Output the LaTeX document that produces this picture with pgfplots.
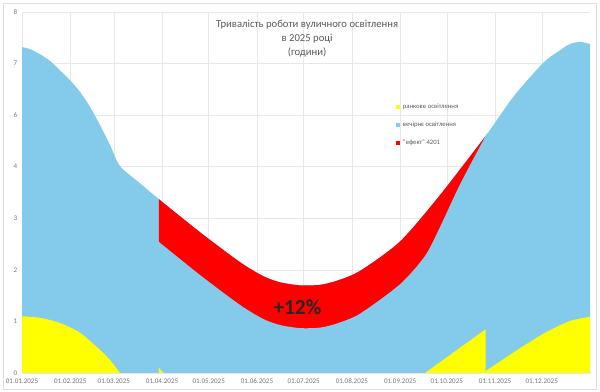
\documentclass[border=0pt]{standalone}
\usepackage{pgfplots}
\pgfplotsset{compat=1.18}
\usepackage{fontspec}
\setmainfont{Carlito}
\definecolor{skyb}{RGB}{131,202,235}
\definecolor{ylw}{RGB}{255,255,0}
\definecolor{titlegray}{RGB}{89,89,89}
\definecolor{tickgray}{RGB}{118,118,118}
\begin{document}
\begin{tikzpicture}
\begin{axis}[
  scale only axis, width=426pt, height=270.75pt,
  xmin=0, xmax=365, ymin=0, ymax=7,
  axis line style={draw=none},
  major tick length=0pt,
  xtick={0,31,59,90,120,151,181,212,243,273,304,334},
  xticklabels={01.01.2025,01.02.2025,01.03.2025,01.04.2025,01.05.2025,01.06.2025,01.07.2025,01.08.2025,01.09.2025,01.10.2025,01.11.2025,01.12.2025},
  ytick={0,1,2,3,4,5,6,7},
  yticklabels={0,1,2,3,4,6,7,8},
  grid=major, grid style={draw=gray!18, line width=0.4pt},
  tick label style={font=\fontsize{5.3}{6}\selectfont, text=tickgray},
  xticklabel style={yshift=-1pt},
  legend style={at={(rel axis cs:0.651,0.762)}, anchor=north west, draw=none, fill=none,
    font=\fontsize{5}{6}\selectfont, text=titlegray, row sep=4.6pt},
  legend cell align=left,
  legend image code/.code={\fill[#1] (0pt,-1.6pt) rectangle (3.2pt,1.6pt);},
]
% blue: upper envelope (total lighting without DST effect)
\addplot[fill=skyb, draw=none, smooth, tension=0.45, forget plot] coordinates {
(0,6.32)(5.1,6.28)(11.6,6.18)(18,6.05)(24.4,5.87)(30.8,5.68)(37.3,5.45)(43.7,5.16)(50.1,4.81)(56.6,4.42)(63,4.01)(75.8,3.68)(88,3.37)
(114.4,2.73)(140.1,2.15)(154.9,1.88)(165.8,1.76)(178.7,1.70)(191.5,1.71)(202.4,1.79)(217.2,1.98)(242.9,2.55)(268.6,3.45)(298,4.60)
(315.6,5.35)(334.8,6.01)(345.8,6.26)(352.2,6.38)(358.6,6.42)(365,6.38)} \closedcycle;
% red: "effect" (area under the envelope during DST)
\addplot[fill=red, draw=none, smooth, tension=0.45, forget plot] coordinates {
(88,3.37)(114.4,2.73)(140.1,2.15)(154.9,1.88)(165.8,1.76)(178.7,1.70)(191.5,1.71)(202.4,1.79)(217.2,1.98)(242.9,2.55)(268.6,3.45)(298,4.60)} \closedcycle;
% blue again: evening + morning lighting during DST
\addplot[fill=skyb, draw=none, smooth, tension=0.45, forget plot] coordinates {
(87.2,2.55)(88,2.54)(114.4,1.90)(140.1,1.32)(154.9,1.05)(165.8,0.93)(178.7,0.87)(191.5,0.88)(202.4,0.96)(217.2,1.15)(242.9,1.72)(259,2.27)(268.6,2.83)(281.5,3.66)(298,4.60)(298.8,4.63)} \closedcycle;
% yellow: morning lighting
\addplot[fill=ylw, draw=none, smooth, tension=0.45, forget plot] coordinates {
(0,1.10)(11.6,1.07)(24.4,0.97)(37.3,0.78)(50.1,0.45)(56.6,0.25)(63,0)} \closedcycle;
\addplot[fill=ylw, draw=none, forget plot] coordinates {(88,0)(88,0.1)(91,0)} -- cycle;
\addplot[fill=ylw, draw=none, forget plot] coordinates {(259,0)(298,0.85)(298,0)} -- cycle;
\addplot[fill=ylw, draw=none, smooth, tension=0.45, forget plot] coordinates {
(298,0.04)(320,0.48)(336.1,0.78)(352.2,1.01)(365,1.09)} \closedcycle;
\addlegendimage{fill=ylw, draw=none}
\addlegendentry{ранкове освітлення}
\addlegendimage{fill=skyb, draw=none}
\addlegendentry{вечірнє освітлення}
\addlegendimage{fill=red, draw=none}
\addlegendentry{"ефект" 4201}
\node[align=center, font=\fontsize{8}{10.5}\selectfont, text=titlegray] at (rel axis cs:0.502,0.925)
  {Тривалість роботи вуличного освітлення\\в 2025 році\\(години)};
\node[font=\bfseries\fontsize{16}{16}\selectfont, text=black!85] at (axis cs:177,1.28) {+12\%};
\end{axis}
\draw[gray!25, line width=0.5pt] (-14.25pt,-12pt) rectangle (430.5pt,277.5pt);
\pgfresetboundingbox
\path[use as bounding box] (-16.5pt,-14.25pt) rectangle (433.5pt,279.75pt);
\end{tikzpicture}
\end{document}
